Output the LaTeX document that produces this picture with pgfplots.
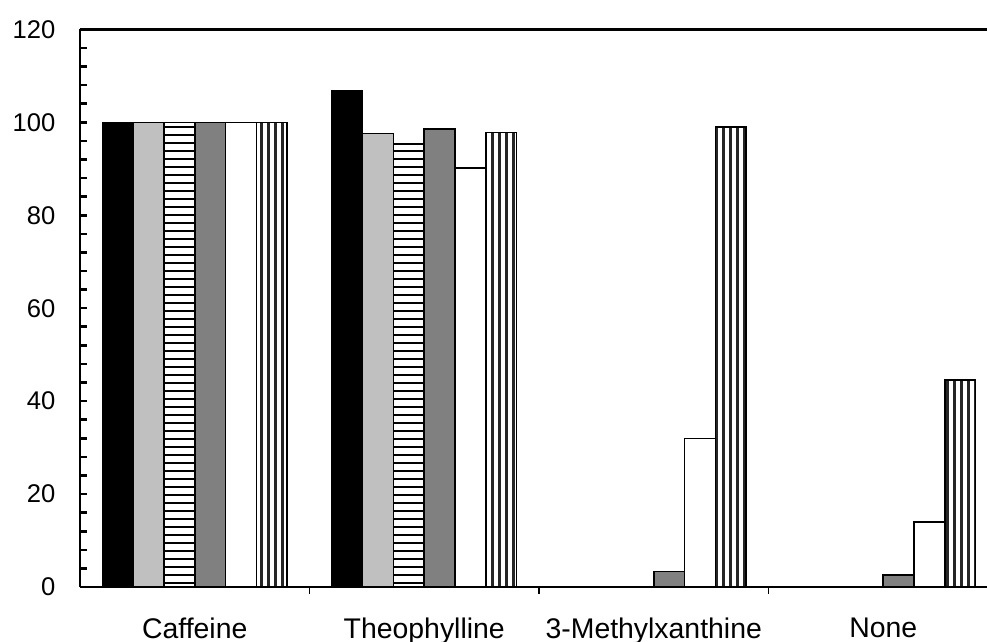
\documentclass[border=0pt]{standalone}
\usepackage{pgfplots}
\pgfplotsset{compat=1.18}
\usepackage{pgfplotstable}
\usepackage{fontspec}
\setmainfont{Liberation Sans}
\usetikzlibrary{patterns}
\pgfdeclarepatternformonly{hlinesbig}{\pgfpointorigin}{\pgfpoint{100pt}{3.95pt}}{\pgfpoint{100pt}{3.95pt}}{%
  \pgfsetlinewidth{0.85pt}%
  \pgfpathmoveto{\pgfpoint{-1pt}{1.975pt}}%
  \pgfpathlineto{\pgfpoint{101pt}{1.975pt}}%
  \pgfusepath{stroke}}
\pgfdeclarepatternformonly{vlinesbig}{\pgfpointorigin}{\pgfpoint{3.7pt}{100pt}}{\pgfpoint{3.7pt}{100pt}}{%
  \pgfsetlinewidth{1.5pt}%
  \pgfpathmoveto{\pgfpoint{1.85pt}{-1pt}}%
  \pgfpathlineto{\pgfpoint{1.85pt}{101pt}}%
  \pgfusepath{stroke}}
\pgfplotstableread{
x a b c d e f
0 100 100 100 100 100 100
1 106.7 97.6 95.4 98.5 90.2 97.8
2 0 0 0 3.3 32 99
3 0 0 0 2.6 14 44.5
}\data
\begin{document}
\begin{tikzpicture}
\begin{axis}[
  scale only axis,
  width=459pt, height=278.8pt,
  at={(0,0)}, anchor=south west,
  axis x line=box, axis y line=left,
  axis line style={line width=1.3pt, -},
  xmin=-0.5, xmax=3.5,
  ymin=0, ymax=120,
  ytick={0,20,...,120},
  minor ytick={4,8,...,116},
  tick align=inside,
  ytick pos=left,
  xtick pos=bottom,
  major tick length=3.5pt,
  minor tick length=3.5pt,
  every tick/.style={line width=1.3pt, black},
  minor x tick style={line width=0.7pt},
  xtick={0,1,2,3},
  xticklabels={Caffeine,Theophylline,3-Methylxanthine,None},
  major x tick style={draw=none},
  minor xtick={0.5,1.5,2.5},
  yticklabel style={font=\fontsize{12.8}{15}\selectfont, xshift=-8.8pt},
  xticklabel style={font=\fontsize{14.2}{17}\selectfont, yshift=-8.5pt},
  /pgf/number format/assume math mode=true,
  ybar=0pt,
  bar width=15.4pt,
]
\addplot[fill=black, draw=black, line width=0.8pt] table[x=x,y=a]{\data};
\addplot[fill={rgb,255:red,192;green,192;blue,192}, draw=black, line width=0.8pt] table[x=x,y=b]{\data};
\addplot[pattern=hlinesbig, pattern color=black, draw=black, line width=0.8pt] table[x=x,y=c]{\data};
\addplot[fill={rgb,255:red,128;green,128;blue,128}, draw=black, line width=0.8pt] table[x=x,y=d]{\data};
\addplot[fill=white, draw=black, line width=0.8pt] table[x=x,y=e]{\data};
\addplot[pattern=vlinesbig, pattern color=black!85, draw=black, line width=0.8pt] table[x=x,y=f]{\data};
\end{axis}
\pgfresetboundingbox
\useasboundingbox (-40pt,-27.5pt) rectangle (453.5pt,293.5pt);
\end{tikzpicture}
\end{document}
